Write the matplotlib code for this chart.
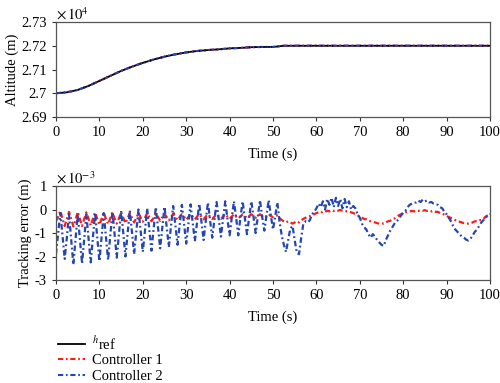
import numpy as np
import matplotlib.pyplot as plt
from matplotlib.ticker import FuncFormatter

# altitude (m), sampled every 2.5 s
t_alt = np.arange(0, 100.1, 2.5)
h_ref = [27000, 27004, 27014, 27031, 27052, 27073, 27094, 27112, 27128, 27142,
         27154, 27164, 27172, 27178, 27182, 27185, 27189, 27191, 27194, 27195,
         27195, 27200, 27200, 27200, 27200, 27200, 27200, 27200, 27200, 27200,
         27200, 27200, 27200, 27200, 27200, 27200, 27200, 27200, 27200, 27200,
         27200]
alt_c1 = h_ref
alt_c2 = h_ref

# tracking error (x1e-3 m), sampled every 0.5 s
t_err = np.arange(0, 100.01, 0.5)
err_c1 = [
    -0.5, -0.3, -0.05, -0.4, -0.7, -0.4, -0.1, -0.4, -0.72, -0.45,
    -0.1, -0.4, -0.7, -0.4, -0.12, -0.4, -0.68, -0.4, -0.12, -0.4,
    -0.65, -0.4, -0.12, -0.4, -0.62, -0.38, -0.12, -0.38, -0.6, -0.38,
    -0.12, -0.36, -0.58, -0.38, -0.15, -0.35, -0.55, -0.36, -0.15, -0.33,
    -0.52, -0.35, -0.15, -0.32, -0.5, -0.35, -0.18, -0.32, -0.48, -0.33,
    -0.18, -0.32, -0.46, -0.32, -0.18, -0.3, -0.45, -0.32, -0.2, -0.3,
    -0.44, -0.32, -0.2, -0.3, -0.42, -0.3, -0.2, -0.3, -0.42, -0.3,
    -0.2, -0.3, -0.4, -0.3, -0.2, -0.3, -0.4, -0.3, -0.2, -0.3,
    -0.4, -0.3, -0.2, -0.3, -0.38, -0.3, -0.2, -0.28, -0.36, -0.28,
    -0.2, -0.28, -0.35, -0.28, -0.2, -0.28, -0.35, -0.28, -0.2, -0.28,
    -0.32, -0.3, -0.25, -0.35, -0.45, -0.5, -0.55, -0.5, -0.55, -0.6,
    -0.55, -0.5, -0.55, -0.45, -0.4, -0.35, -0.3, -0.28, -0.22, -0.2,
    -0.15, -0.12, -0.15, -0.08, -0.1, -0.05, -0.08, -0.03, -0.06, -0.02,
    -0.05, -0.02, -0.05, -0.05, -0.08, -0.08, -0.12, -0.15, -0.2, -0.25,
    -0.3, -0.35, -0.4, -0.42, -0.48, -0.5, -0.52, -0.55, -0.58, -0.6,
    -0.58, -0.6, -0.55, -0.5, -0.48, -0.42, -0.38, -0.3, -0.25, -0.2,
    -0.15, -0.12, -0.1, -0.08, -0.06, -0.08, -0.05, -0.06, -0.03, -0.05,
    -0.03, -0.06, -0.04, -0.08, -0.05, -0.1, -0.1, -0.15, -0.18, -0.22,
    -0.27, -0.32, -0.36, -0.4, -0.45, -0.5, -0.52, -0.55, -0.58, -0.6,
    -0.6, -0.58, -0.55, -0.5, -0.5, -0.45, -0.45, -0.4, -0.3, -0.25,
    -0.2]
err_c2 = [
    -1.9, -1.0, -0.15, -1.1, -2.1, -1.2, -0.2, -1.25, -2.35, -1.3,
    -0.2, -1.25, -2.3, -1.25, -0.2, -1.2, -2.25, -1.2, -0.15, -1.15,
    -2.2, -1.2, -0.15, -1.15, -2.15, -1.1, -0.1, -1.05, -2.05, -1.05,
    -0.05, -1.0, -2.0, -1.0, -0.05, -0.95, -1.9, -0.95, 0.0, -0.9,
    -1.8, -0.9, 0.05, -0.85, -1.75, -0.8, 0.1, -0.75, -1.65, -0.75,
    0.12, -0.75, -1.6, -0.7, 0.15, -0.65, -1.5, -0.65, 0.2, -0.6,
    -1.45, -0.6, 0.22, -0.55, -1.35, -0.55, 0.25, -0.5, -1.3, -0.5,
    0.3, -0.45, -1.2, -0.45, 0.32, -0.4, -1.15, -0.4, 0.35, -0.4,
    -1.1, -0.35, 0.35, -0.35, -1.1, -0.35, 0.35, -0.35, -1.05, -0.35,
    0.35, -0.3, -1.0, -0.3, 0.4, -0.3, -0.9, -0.25, 0.4, -0.25,
    -0.85, -0.3, 0.3, -0.5, -1.1, -1.5, -1.8, -1.3, -0.8, -0.7,
    -1.3, -1.85, -1.9, -1.2, -0.6, -0.5, -0.55, -0.45, -0.2, -0.1,
    0.05, 0.25, 0.1, 0.35, 0.0, 0.45, 0.2, 0.5, 0.1, 0.5,
    0.15, 0.45, 0.05, 0.45, 0.1, 0.35, 0.0, 0.15, 0.05, -0.2,
    -0.35, -0.6, -0.75, -0.85, -1.05, -1.2, -1.05, -1.15, -1.3, -1.4,
    -1.5, -1.55, -1.3, -1.1, -0.9, -0.75, -0.6, -0.5, -0.4, -0.25,
    -0.15, -0.05, 0.1, 0.2, 0.25, 0.3, 0.3, 0.38, 0.32, 0.42,
    0.35, 0.38, 0.3, 0.32, 0.25, 0.22, 0.2, 0.1, 0.05, -0.1,
    -0.2, -0.35, -0.5, -0.7, -0.85, -0.95, -1.05, -1.15, -1.2, -1.28,
    -1.32, -1.25, -1.1, -0.95, -0.85, -0.7, -0.55, -0.45, -0.35, -0.25,
    -0.2]

labels = [r'$^{h}$ref', 'Controller 1', 'Controller 2']
colors = ['black', '#ff1a1a', '#2446b0']
dashdot = (0, (2.5, 1.3, 0.8, 1.3))

plt.rcParams['font.family'] = ['Liberation Serif', 'DejaVu Serif']
plt.rcParams['mathtext.fontset'] = 'stix'
plt.rcParams['font.size'] = 10.5

fig = plt.figure(figsize=(5, 3.83), dpi=100)
ax1 = fig.add_axes([0.112, 0.6945, 0.868, 0.248])
ax2 = fig.add_axes([0.112, 0.2689, 0.868, 0.2454])

l0, = ax1.plot(t_alt, h_ref, color=colors[0], lw=1.3, label=labels[0])
l1, = ax1.plot(t_alt, alt_c1, color=colors[1], lw=1.5, ls=dashdot, label=labels[1])
l2, = ax1.plot(t_alt, alt_c2, color=colors[2], lw=1.5, ls=dashdot, label=labels[2])
ax1.plot(t_alt, h_ref, color='black', lw=1.0, ls=(0, (1, 3)))

ax2.plot(t_err, err_c1, color=colors[1], lw=1.6, ls=dashdot)
ax2.plot(t_err, err_c2, color=colors[2], lw=1.6, ls=dashdot)

ax1.set_ylim(26900, 27300)
ax1.set_yticks([26900, 27000, 27100, 27200, 27300])
ax1.yaxis.set_major_formatter(FuncFormatter(lambda v, p: '%g' % round(v / 1e4, 4)))
ax1.set_ylabel('Altitude (m)', labelpad=2)
ax1.text(0.0, 1.03, r'$\times\,10^{4}$', transform=ax1.transAxes, fontsize=10.5)

ax2.set_ylim(-3, 1)
ax2.set_yticks([-3, -2, -1, 0, 1])
ax2.yaxis.set_major_formatter(FuncFormatter(lambda v, p: '%g' % v))
ax2.set_ylabel('Tracking error (m)', labelpad=2)
ax2.text(0.0, 1.03, r'$\times\,10^{-3}$', transform=ax2.transAxes, fontsize=10.5)

for ax in (ax1, ax2):
    ax.set_xlim(0, 100)
    ax.set_xticks(np.arange(0, 101, 10))
    ax.set_xlabel('Time (s)', labelpad=6)
    ax.tick_params(direction='out', length=3, width=0.8, colors='#333333', labelcolor='black', pad=3.5)
    for s in ax.spines.values():
        s.set_color('#555555')
        s.set_linewidth(0.9)

fig.legend(handles=[l0, l1, l2], loc='upper left', bbox_to_anchor=(0.105, 0.143),
           frameon=False, handlelength=1.8, handletextpad=0.5, labelspacing=0.15,
           borderaxespad=0, prop={'family': 'Liberation Serif', 'size': 10.5})

fig.savefig('out.png', dpi=100)
